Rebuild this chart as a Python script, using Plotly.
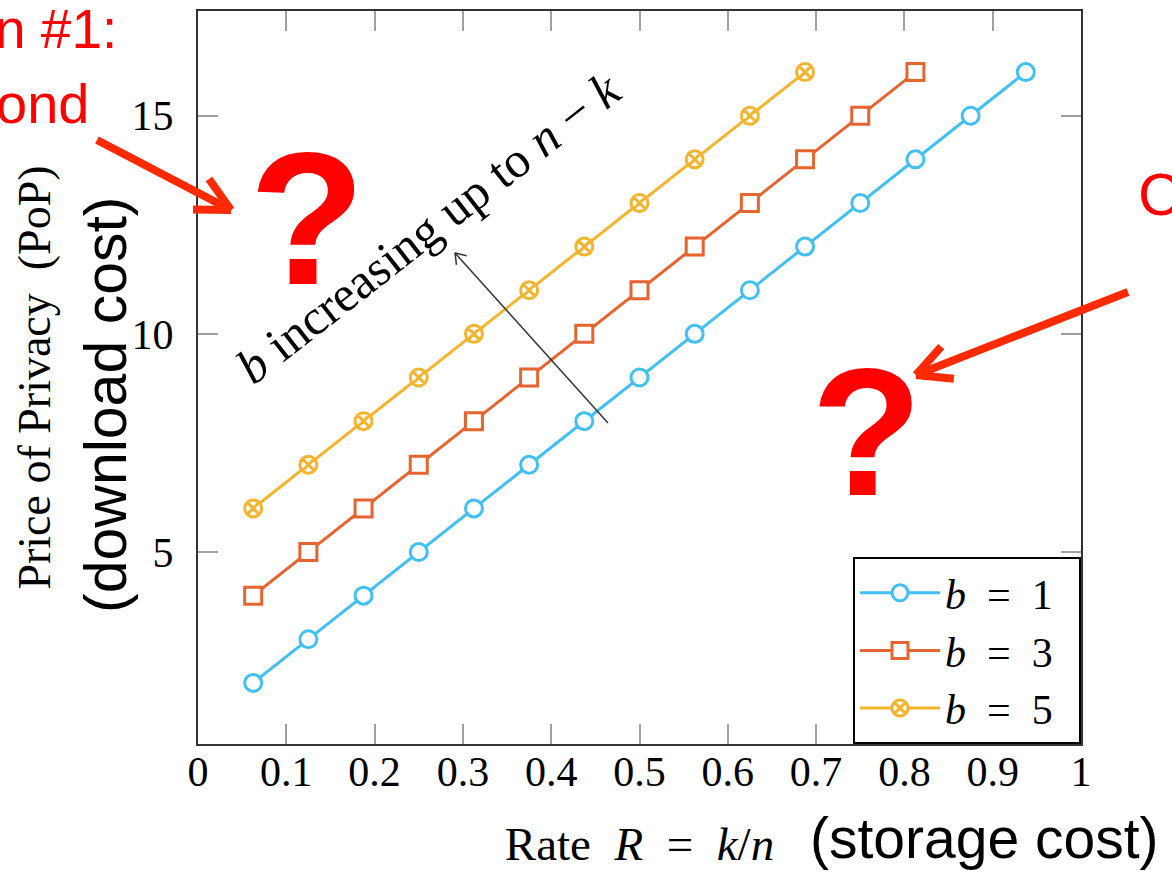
import math
import plotly.graph_objects as go

# ---------------- data ----------------
rate_b1 = [0.0625, 0.125, 0.1875, 0.25, 0.3125, 0.375, 0.4375, 0.5, 0.5625, 0.625, 0.6875, 0.75, 0.8125, 0.875, 0.9375]
pop_b1 = [2, 3, 4, 5, 6, 7, 8, 9, 10, 11, 12, 13, 14, 15, 16]

rate_b3 = [0.0625, 0.125, 0.1875, 0.25, 0.3125, 0.375, 0.4375, 0.5, 0.5625, 0.625, 0.6875, 0.75, 0.8125]
pop_b3 = [4, 5, 6, 7, 8, 9, 10, 11, 12, 13, 14, 15, 16]

rate_b5 = [0.0625, 0.125, 0.1875, 0.25, 0.3125, 0.375, 0.4375, 0.5, 0.5625, 0.625, 0.6875]
pop_b5 = [6, 7, 8, 9, 10, 11, 12, 13, 14, 15, 16]

series_names = ["<i>b</i>\u2002=\u20021\u2002", "<i>b</i>\u2002=\u20023\u2002", "<i>b</i>\u2002=\u20025\u2002"]
x_tick_vals = [0, 0.1, 0.2, 0.3, 0.4, 0.5, 0.6, 0.7, 0.8, 0.9, 1]
y_tick_vals = [5, 10, 15]

# ---------------- style ----------------
W, H = 1172, 872
L, R, T, B = 198, 91, 11, 128
PW, PH = W - L - R, H - T - B
SERIF = "Liberation Serif"
SANS = "Liberation Sans"
BLUE, ORANGE, YELLOW = "#42C0F3", "#E5642F", "#F3B42E"
RED = "#FF0000"
ARROW_RED = "#FF2A00"


def px(x):
    return (x - L) / PW


def py(y):
    return (H - B - y) / PH


fig = go.Figure()
specs = [
    (rate_b1, pop_b1, series_names[0], BLUE, "circle", 17),
    (rate_b3, pop_b3, series_names[1], ORANGE, "square", 17),
    (rate_b5, pop_b5, series_names[2], YELLOW, "circle-x", 17),
]
for xs, ys, name, col, sym, sz in specs:
    fig.add_trace(go.Scatter(
        x=xs, y=ys, name=name, mode="lines+markers",
        line=dict(color=col, width=3),
        marker=dict(symbol=sym, size=sz, color="white", line=dict(color=col, width=3)),
    ))

axis_common = dict(
    showgrid=False, zeroline=False, showline=True, linecolor="#333333", linewidth=2,
    mirror="ticks", ticks="inside", ticklen=20, tickwidth=1.5, tickcolor="#a0a0a0",
    tickfont=dict(family=SERIF, size=42, color="black"), automargin=False,
)

fig.update_layout(
    width=W, height=H,
    margin=dict(l=L, r=R, t=T, b=B, pad=0, autoexpand=False),
    paper_bgcolor="white", plot_bgcolor="white",
    showlegend=True,
    legend=dict(
        x=1, y=0, xanchor="right", yanchor="bottom",
        bgcolor="white", bordercolor="black", borderwidth=2,
        font=dict(family=SERIF, size=42, color="black"),
        itemwidth=80, tracegroupgap=0,
    ),
    xaxis=dict(
        range=[0, 1], tickvals=x_tick_vals, ticklabelstandoff=-10,
        title=dict(text="Rate\u2002<i>R</i>\u2002=\u2002<i>k</i>/<i>n</i>", standoff=33,
                   font=dict(family=SERIF, size=47, color="black")),
        **axis_common,
    ),
    yaxis=dict(
        range=[0.6, 17.4], tickvals=y_tick_vals, ticklabelstandoff=14,
        title=dict(text="Price of Privacy\u2002(PoP)", standoff=66,
                   font=dict(family=SERIF, size=46, color="black")),
        **axis_common,
    ),
)

annotations = []
# rotated annotation along the lines
annotations.append(dict(
    xref="paper", yref="paper", x=px(428), y=py(228), showarrow=False,
    text="<i>b</i> increasing up to <i>n</i> − <i>k</i>", textangle=-38,
    font=dict(family=SERIF, size=50, color="black"),
    xanchor="center", yanchor="middle",
))


# overlay texts (slide annotations)
def txt(text, x, y, size, color, xanchor="center", angle=0, family=SANS):
    annotations.append(dict(
        xref="paper", yref="paper", x=px(x), y=py(y), showarrow=False, text=text,
        textangle=angle, xanchor=xanchor, yanchor="middle",
        font=dict(family=family, size=size, color=color),
    ))


txt("n #1:", 119, 29, 55, RED, xanchor="right")
txt("ond", 91, 103, 56, RED, xanchor="right")
txt("C", 1136, 195, 60, RED, xanchor="left")
txt("<b>?</b>", 307, 218, 190, RED)
txt("<b>?</b>", 866, 432, 182, RED)
txt("(download cost)", 106, 405, 59, "black", angle=-90)
txt("(storage cost)", 808, 838, 57, "black", xanchor="left")

fig.update_layout(annotations=annotations)

# arrows drawn as shaft + chevron
shapes = []


def arrow(tail, head, length, spread, color, width):
    tx, ty = tail
    hx, hy = head
    ang = math.atan2(ty - hy, tx - hx)
    segs = [(tail, head)]
    for s in (spread, -spread):
        a = ang + math.radians(s)
        segs.append((head, (hx + length * math.cos(a), hy + length * math.sin(a))))
    for (x0, y0), (x1, y1) in segs:
        shapes.append(dict(
            type="line", xref="paper", yref="paper",
            x0=px(x0), y0=py(y0), x1=px(x1), y1=py(y1),
            line=dict(color=color, width=width), layer="above",
        ))


arrow((608, 423), (455, 253), 12, 35, "#333333", 1.5)
arrow((97, 140), (231, 210), 38, 27, ARROW_RED, 8)
arrow((1128, 292), (916, 375), 38, 27, ARROW_RED, 8)

fig.update_layout(shapes=shapes)

fig.write_html("out.html")
